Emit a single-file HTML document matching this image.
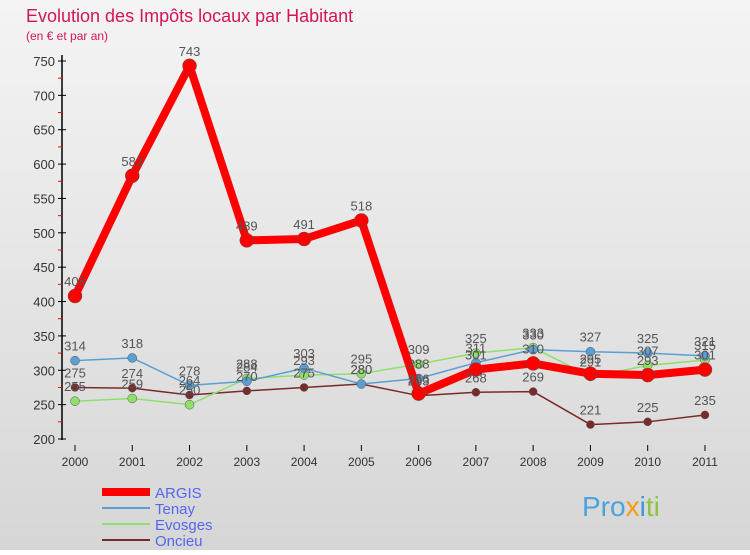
<!DOCTYPE html>
<html><head><meta charset="utf-8"><style>
body{margin:0;width:750px;height:550px;overflow:hidden;font-family:"Liberation Sans",sans-serif}
</style></head><body>
<svg id="c" width="750" height="550" xmlns="http://www.w3.org/2000/svg">
<defs><linearGradient id="bg" x1="0" y1="0" x2="0" y2="1"><stop offset="0" stop-color="#f4f4f4"/><stop offset="1" stop-color="#d6d6d6"/></linearGradient></defs>
<rect width="750" height="550" fill="url(#bg)"/>
<text x="26" y="22" font-size="18" fill="#d4145a">Evolution des Impôts locaux par Habitant</text>
<text x="26" y="40" font-size="12" fill="#d4145a">(en € et par an)</text>
<g id="axes"></g><g id="series"></g><g id="labels"></g>
<g>
<line x1="102" y1="492" x2="150" y2="492" stroke="#f00" stroke-width="8"/>
<text x="155" y="498" font-size="15" fill="#5566ee">ARGIS</text>
<line x1="102" y1="508" x2="150" y2="508" stroke="#5a9fd4" stroke-width="2"/>
<text x="155" y="514" font-size="15" fill="#5566ee">Tenay</text>
<line x1="102" y1="524" x2="150" y2="524" stroke="#8ee06a" stroke-width="2"/>
<text x="155" y="530" font-size="15" fill="#5566ee">Evosges</text>
<line x1="102" y1="540" x2="150" y2="540" stroke="#7a2a2a" stroke-width="2"/>
<text x="155" y="546" font-size="15" fill="#5566ee">Oncieu</text>
</g>
<text x="582" y="516" font-size="28" fill="#4aa3df">Pro<tspan fill="#f39c12">x</tspan><tspan fill="#3a9ad9">i</tspan><tspan fill="#8cc63f">ti</tspan></text>
</svg>
<script>
const years=["2000","2001","2002","2003","2004","2005","2006","2007","2008","2009","2010","2011"];
const yTicks=[200,250,300,350,400,450,500,550,600,650,700,750];
const argis=[408,583,743,489,491,518,266,301,310,295,293,301];
const tenay=[314,318,278,284,303,280,288,311,330,327,325,321];
const evosges=[255,259,250,288,293,295,309,325,333,291,307,315];
const oncieu=[275,274,264,270,275,280,263,268,269,221,225,235];
const NS="http://www.w3.org/2000/svg";
const X=i=>75+i*57.27, Y=v=>439-(v-200)*0.6873;
function mk(t,a,p){const e=document.createElementNS(NS,t);for(const k in a)e.setAttribute(k,a[k]);p.appendChild(e);return e;}
const ax=document.getElementById('axes'),se=document.getElementById('series'),lb=document.getElementById('labels');
let a=mk('line',{x1:62,y1:55,x2:62,y2:440,stroke:'#000','stroke-width':1.5},ax);

yTicks.forEach(v=>{
 let t=mk('line',{x1:58,y1:Y(v),x2:66,y2:Y(v),stroke:'#000'},ax);
 
 if(v<750){let m=mk('line',{x1:58,y1:Y(v+25),x2:62,y2:Y(v+25),stroke:'#f00'},ax);
 }
 let l=mk('text',{x:55,y:Y(v)+5,'font-size':13,'text-anchor':'end',fill:'#333'},ax);l.textContent=v;
 
});
years.forEach((y,i)=>{
 let t=mk('line',{x1:X(i),y1:445,x2:X(i),y2:451,stroke:'#000'},ax);
 
 let l=mk('text',{x:X(i),y:466,'font-size':12,'text-anchor':'middle',fill:'#333'},ax);l.textContent=y;
 
});
function draw(data,name,color,w,r){
 const g=mk('g',{},se);
 
 let p=mk('polyline',{points:data.map((v,i)=>X(i)+','+Y(v)).join(' '),fill:'none',stroke:color,'stroke-width':w,'stroke-linejoin':'round'},g);
 
 data.forEach((v,i)=>{
  let c=mk('circle',{cx:X(i),cy:Y(v),r:r,fill:color,stroke:'#555','stroke-width':0.5},g);
  
  let l=mk('text',{x:X(i),y:Y(v)-10,'font-size':13,'text-anchor':'middle',fill:'#555'},lb);l.textContent=v;
  
 });
}
draw(oncieu,'oncieu','#7a2a2a',1.5,4);
draw(evosges,'evosges','#8ee06a',1.5,4.5);
draw(tenay,'tenay','#5a9fd4',1.5,4.5);
draw(argis,'argis','#ff0000',8,7);
</script>
</body></html>
